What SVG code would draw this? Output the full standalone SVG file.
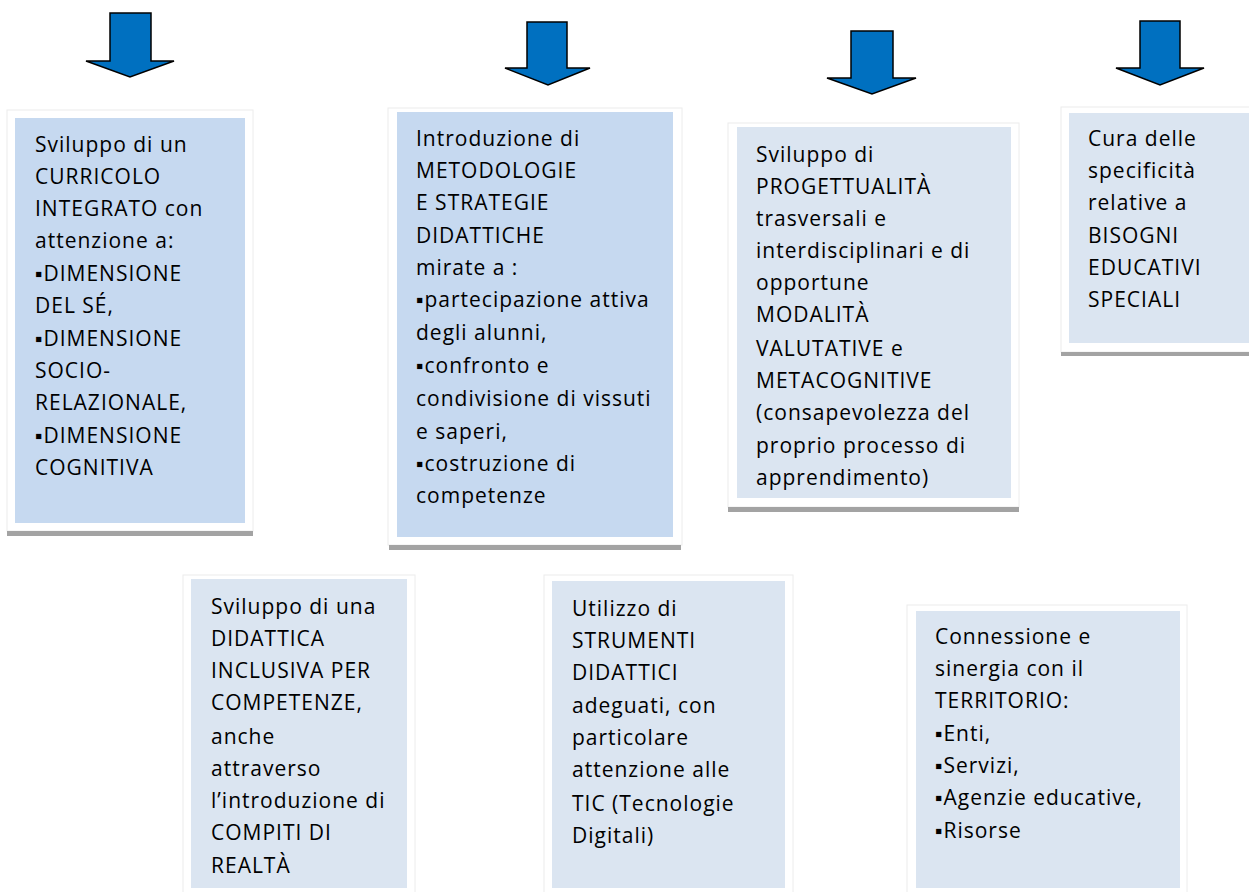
<svg xmlns="http://www.w3.org/2000/svg" width="1249" height="892" viewBox="0 0 1249 892">
<defs>
<style>
.arrow{fill:#0070c0;stroke:#000;stroke-width:1.5;stroke-linejoin:miter}
.frame{fill:#fff;stroke:#ececec;stroke-width:1}
.shadow{fill:#a3a3a3}
.b1{fill:#c6d9f0}
.b2{fill:#dbe5f1}
text{font-family:"Open Sans","Liberation Sans","DejaVu Sans",sans-serif;font-size:21px;letter-spacing:1px;fill:#000}
</style>
</defs>
<rect width="1249" height="892" fill="#fff"/>
<g id="connectors">
<polygon class="arrow" points="110,13 151,13 151,61 174,61 130,77 86,61 110,61"/>
<polygon class="arrow" points="527,22 567,22 567,68 590,68 548,85 505,68 527,68"/>
<polygon class="arrow" points="851,31 893,31 893,78 916,78 872,94 827,78 851,78"/>
<polygon class="arrow" points="1140,21 1180,21 1180,68 1204,68 1160,85 1116,68 1140,68"/>
</g>
<g id="node1">
<rect class="frame" x="7" y="110" width="246" height="421"/>
<rect class="shadow" x="7" y="531" width="246" height="5"/>
<rect class="b1" x="15" y="118" width="230" height="405"/>
<text x="35" y="152">Sviluppo di un</text>
<text x="35" y="184">CURRICOLO</text>
<text x="35" y="216">INTEGRATO con</text>
<text x="35" y="248">attenzione a:</text>
<text x="35" y="281">▪DIMENSIONE</text>
<text x="35" y="313">DEL SÉ,</text>
<text x="35" y="346">▪DIMENSIONE</text>
<text x="35" y="378">SOCIO-</text>
<text x="35" y="410">RELAZIONALE,</text>
<text x="35" y="443">▪DIMENSIONE</text>
<text x="35" y="475">COGNITIVA</text>
</g>
<g id="node2">
<rect class="frame" x="388" y="108" width="294" height="437"/>
<rect class="shadow" x="389" y="545" width="292" height="5"/>
<rect class="b1" x="397" y="112" width="276" height="425"/>
<text x="416" y="146">Introduzione di</text>
<text x="416" y="178">METODOLOGIE</text>
<text x="416" y="210">E STRATEGIE</text>
<text x="416" y="243">DIDATTICHE</text>
<text x="416" y="275">mirate a :</text>
<text x="416" y="307">▪partecipazione attiva</text>
<text x="416" y="340">degli alunni,</text>
<text x="416" y="373">▪confronto e</text>
<text x="416" y="406">condivisione di vissuti</text>
<text x="416" y="439">e saperi,</text>
<text x="416" y="471">▪costruzione di</text>
<text x="416" y="503">competenze</text>
</g>
<g id="node3">
<rect class="frame" x="728" y="123" width="291" height="384"/>
<rect class="shadow" x="728" y="507" width="291" height="5"/>
<rect class="b2" x="737" y="127" width="274" height="371"/>
<text x="756" y="162">Sviluppo di</text>
<text x="756" y="194">PROGETTUALITÀ</text>
<text x="756" y="226">trasversali e</text>
<text x="756" y="258">interdisciplinari e di</text>
<text x="756" y="290">opportune</text>
<text x="756" y="322">MODALITÀ</text>
<text x="756" y="356">VALUTATIVE e</text>
<text x="756" y="388">METACOGNITIVE</text>
<text x="756" y="420">(consapevolezza del</text>
<text x="756" y="453">proprio processo di</text>
<text x="756" y="485">apprendimento)</text>
</g>
<g id="node4">
<rect class="frame" x="1061" y="107" width="200" height="245"/>
<rect class="shadow" x="1061" y="352" width="188" height="4"/>
<rect class="b2" x="1069" y="113" width="180" height="230"/>
<text x="1088" y="146">Cura delle</text>
<text x="1088" y="178">specificità</text>
<text x="1088" y="210">relative a</text>
<text x="1088" y="243">BISOGNI</text>
<text x="1088" y="275">EDUCATIVI</text>
<text x="1088" y="307">SPECIALI</text>
</g>
<g id="node5">
<rect class="frame" x="183" y="575" width="232" height="330"/>
<rect class="b2" x="191" y="579" width="216" height="309"/>
<text x="211" y="614">Sviluppo di una</text>
<text x="211" y="646">DIDATTICA</text>
<text x="211" y="678">INCLUSIVA PER</text>
<text x="211" y="710">COMPETENZE,</text>
<text x="211" y="744">anche</text>
<text x="211" y="776">attraverso</text>
<text x="211" y="808">l’introduzione di</text>
<text x="211" y="840">COMPITI DI</text>
<text x="211" y="873">REALTÀ</text>
</g>
<g id="node6">
<rect class="frame" x="544" y="575" width="249" height="330"/>
<rect class="b2" x="552" y="581" width="233" height="307"/>
<text x="572" y="616">Utilizzo di</text>
<text x="572" y="648">STRUMENTI</text>
<text x="572" y="680">DIDATTICI</text>
<text x="572" y="713">adeguati, con</text>
<text x="572" y="745">particolare</text>
<text x="572" y="777">attenzione alle</text>
<text x="572" y="811">TIC (Tecnologie</text>
<text x="572" y="843">Digitali)</text>
</g>
<g id="node7">
<rect class="frame" x="907" y="605" width="280" height="300"/>
<rect class="b2" x="916" y="611" width="264" height="277"/>
<text x="935" y="644">Connessione e</text>
<text x="935" y="676">sinergia con il</text>
<text x="935" y="708">TERRITORIO:</text>
<text x="935" y="741">▪Enti,</text>
<text x="935" y="773">▪Servizi,</text>
<text x="935" y="805">▪Agenzie educative,</text>
<text x="935" y="838">▪Risorse</text>
</g>
</svg>
